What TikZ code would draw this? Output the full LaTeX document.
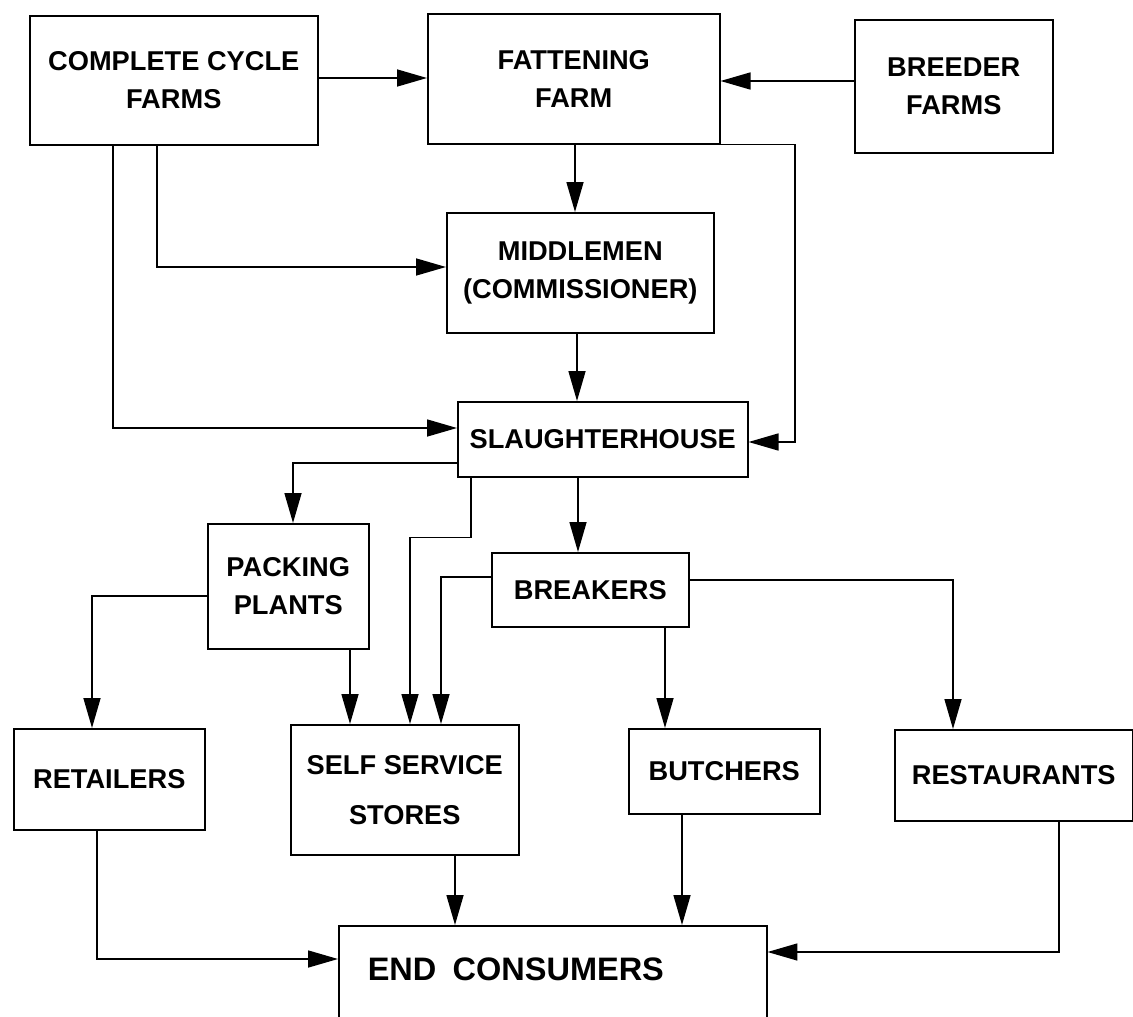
\documentclass[tikz,border=0pt]{standalone}
\usepackage{fontspec}
\setmainfont{Liberation Sans}
\usetikzlibrary{arrows.meta}

\begin{document}
\begin{tikzpicture}[x=0.02cm, y=-0.02cm, line width=0.9pt,
  box/.style={draw, anchor=north west, inner sep=0pt, align=center,
    font=\fontsize{15.5}{21.5}\selectfont\bfseries},
  arr/.style={-{Triangle[length=0.6cm, width=0.34cm]}}]

\useasboundingbox (0,0) rectangle (1133,1017);

% draw farm boxes
\node[box, minimum width=5.76cm, minimum height=2.58cm] (cycle) at (29,15) {COMPLETE CYCLE\\FARMS};
\node[box, minimum width=5.84cm, minimum height=2.6cm] (fatten) at (427,13) {FATTENING\\FARM};
\node[box, minimum width=3.96cm, minimum height=2.66cm] (breeder) at (854,19) {BREEDER\\FARMS};

% draw middle boxes
\node[box, minimum width=5.34cm, minimum height=2.4cm] (middle) at (446,212) {MIDDLEMEN\\(COMMISSIONER)};
\node[box, minimum width=5.8cm, minimum height=1.5cm] (slaughter) at (457,401) {SLAUGHTERHOUSE};
\node[box, minimum width=3.22cm, minimum height=2.5cm] (packing) at (207,523) {PACKING\\PLANTS};
\node[box, minimum width=3.94cm, minimum height=1.48cm] (breakers) at (491,552) {BREAKERS};

% draw outlet boxes
\node[box, minimum width=3.82cm, minimum height=2.02cm] (retail) at (13,728) {RETAILERS};
\node[box, minimum width=4.56cm, minimum height=2.6cm] (selfserve) at (290,724) {SELF SERVICE\\[7pt]STORES};
\node[box, minimum width=3.82cm, minimum height=1.7cm] (butcher) at (628,728) {BUTCHERS};
\node[box, minimum width=4.76cm, minimum height=1.82cm] (restaur) at (894,729) {RESTAURANTS};

% draw consumer box
\node[box, minimum width=8.56cm, text width=7.4cm, inner xsep=0.58cm, inner ysep=0.64cm,
  text height=0.46cm, text depth=0.5cm, align=left,
  font=\fontsize{18.5}{21}\selectfont\bfseries] (consumer) at (338,925) {END\hspace{0.5em}CONSUMERS};

% draw arrows from farms
\draw[arr] (cycle.east |- 0,78) -- (fatten.west |- 0,78);
\draw[arr] (breeder.west |- 0,81) -- (fatten.east |- 0,81);
\draw[arr] (fatten.south -| 575,0) -- (middle.north -| 575,0);
\draw[arr] (cycle.south -| 157,0) |- (middle.west |- 0,267);
\draw[arr] (cycle.south -| 113,0) |- (slaughter.west |- 0,428);
\draw[arr] (middle.south -| 577,0) -- (slaughter.north -| 577,0);
\draw[arr] (fatten.south east) -- (fatten.south east -| 795,0) |- (slaughter.east |- 0,442);

% draw arrows from slaughterhouse
\draw[arr] (slaughter.west |- 0,463) -| (packing.north -| 293,0);
\draw[arr] (slaughter.south -| 471,0) -- ++(0,60) -| (selfserve.north -| 410,0);
\draw[arr] (slaughter.south -| 578,0) -- (breakers.north -| 578,0);

% draw arrows from packing plants and breakers
\draw[arr] (packing.south -| 350,0) -- (selfserve.north -| 350,0);
\draw[arr] (packing.west |- 0,596) -| (retail.north -| 92,0);
\draw[arr] (breakers.west |- 0,577) -| (selfserve.north -| 441,0);
\draw[arr] (breakers.south -| 665,0) -- (butcher.north -| 665,0);
\draw[arr] (breakers.east |- 0,580) -| (restaur.north -| 953,0);

% draw arrows to end consumers
\draw[arr] (retail.south -| 97,0) |- (consumer.west |- 0,959);
\draw[arr] (selfserve.south -| 455,0) -- (consumer.north -| 455,0);
\draw[arr] (butcher.south -| 682,0) -- (consumer.north -| 682,0);
\draw[arr] (restaur.south -| 1059,0) |- (consumer.east |- 0,952);

\end{tikzpicture}
\end{document}
